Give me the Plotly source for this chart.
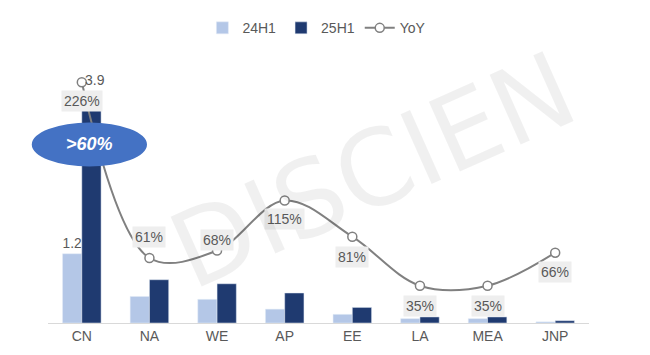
import plotly.graph_objects as go

categories = ["CN", "NA", "WE", "AP", "EE", "LA", "MEA", "JNP"]
h1_24 = [1.2, 0.46, 0.41, 0.24, 0.15, 0.075, 0.075, 0.02]
h1_25 = [3.9, 0.75, 0.68, 0.52, 0.27, 0.105, 0.105, 0.04]
yoy = [226, 61, 68, 115, 81, 35, 35, 66]
yoy_labels = ["226%", "61%", "68%", "115%", "81%", "35%", "35%", "66%"]
yoy_shift = [-19, 21, 11, -19, -20, -20, -20, -19]
bar_labels_24 = ["1.2", "", "", "", "", "", "", ""]
bar_labels_25 = ["3.9", "", "", "", "", "", "", ""]

FONT = "Liberation Sans, Arial, sans-serif"
GREY = "#595959"

fig = go.Figure()
fig.add_trace(go.Bar(
    x=categories, y=h1_24, name="24H1", marker_color="#b4c7e7",
    text=bar_labels_24, textposition="outside", cliponaxis=False,
    textfont=dict(size=14, color=GREY, family=FONT),
))
fig.add_trace(go.Bar(
    x=categories, y=h1_25, name="25H1", marker_color="#1f3a70",
    cliponaxis=False,
))
fig.add_trace(go.Scatter(
    x=categories, y=yoy, name="YoY", yaxis="y2", mode="lines+markers",
    line=dict(color="#808080", width=2, shape="spline", smoothing=1),
    marker=dict(symbol="circle", size=9, color="white",
                line=dict(color="#808080", width=1.5)),
    cliponaxis=False,
))

# 25H1 label (placed right of the YoY marker, as in the original)
for c, v, lab in zip(categories, h1_25, bar_labels_25):
    if lab:
        fig.add_annotation(
            x=c, y=v, xref="x", yref="y", text=lab, showarrow=False,
            xshift=13, yshift=18,
            font=dict(size=14, color=GREY, family=FONT),
        )

for c, v, lab, s in zip(categories, yoy, yoy_labels, yoy_shift):
    fig.add_annotation(
        x=c, y=v, xref="x", yref="y2", text=lab, showarrow=False,
        yshift=s, bgcolor="#eeeeee", borderpad=2,
        font=dict(size=14, color=GREY, family=FONT),
    )

# watermark
fig.add_annotation(
    x=0.6, y=0.55, xref="paper", yref="paper", text="DISCIEN",
    xanchor="center", yanchor="middle",
    showarrow=False, textangle=-24,
    font=dict(size=105, color="rgba(0,0,0,0.06)", family="DejaVu Sans"),
)

# highlight ellipse
fig.add_shape(type="circle", xref="paper", yref="paper",
              x0=-0.03, x1=0.183, y0=0.565, y1=0.724,
              fillcolor="#4472c4", line=dict(width=0), layer="above")
fig.add_annotation(
    x=0.076, y=0.645, xref="paper", yref="paper",
    xanchor="center", yanchor="middle",
    text="<i><b>&gt;60%</b></i>", showarrow=False,
    font=dict(size=18, color="white", family=FONT),
)

fig.update_layout(
    width=650, height=355,
    margin=dict(l=48, r=61, t=40, b=32),
    plot_bgcolor="white", paper_bgcolor="white",
    barmode="group", bargap=0.43, bargroupgap=0,
    font=dict(family=FONT, color=GREY, size=14),
    showlegend=True,
    legend=dict(orientation="h", x=0.497, xanchor="center", y=1.064,
                yanchor="middle", font=dict(size=14, color=GREY),
                itemwidth=30, traceorder="normal"),
    xaxis=dict(showline=True, linecolor="#d9d9d9", linewidth=1,
               ticks="", showgrid=False,
               tickfont=dict(size=14, color=GREY)),
    yaxis=dict(range=[0, 4.8], visible=False, showgrid=False),
    yaxis2=dict(range=[0, 260], overlaying="y", visible=False, showgrid=False),
)

fig.write_html("out.html", config={"displayModeBar": False},
               post_script="document.body.style.margin='0';")
